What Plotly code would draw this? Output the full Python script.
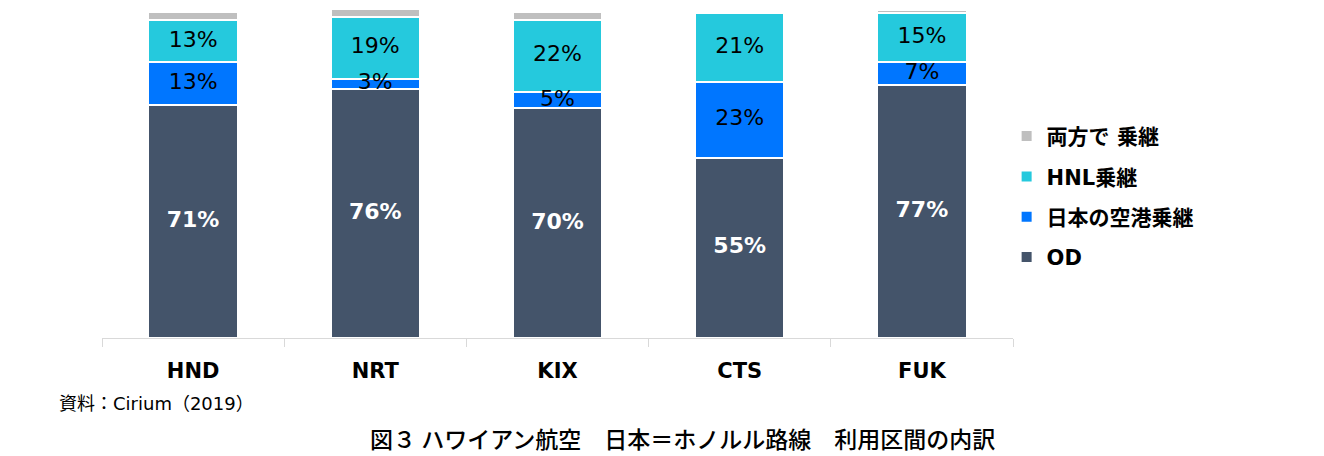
import plotly.graph_objects as go

# -----------------------------
# Data
# -----------------------------
airports = ["HND", "NRT", "KIX", "CTS", "FUK"]

od = [71, 76, 70, 55, 77]
japan_transfer = [13, 3, 5, 23, 7]
hnl_transfer = [13, 19, 22, 21, 15]
both_transfer = [2.4, 2.4, 2.4, 0, 1]

# name, values, colour, label colour, bold label (None = no label), legend rank
SERIES = [
    ("OD", od, "#44546a", "white", True, 4),
    ("日本の空港乗継", japan_transfer, "#0076ff", "black", False, 3),
    ("HNL乗継", hnl_transfer, "#25c9dd", "black", False, 2),
    ("両方で 乗継", both_transfer, "#bfbfbf", "black", None, 1),
]

LATIN = "DejaVu Sans, Noto Sans CJK JP"
CJK = "Noto Sans CJK JP, DejaVu Sans"

# -----------------------------
# Figure
# -----------------------------
fig = go.Figure()

for name, vals, color, txtcolor, bold, rank in SERIES:
    fig.add_trace(
        go.Bar(
            x=airports,
            y=vals,
            name=name,
            legendgroup=name,
            legendrank=rank,
            marker=dict(color=color, line=dict(color="white", width=2)),
            hoverinfo="skip",
        )
    )

# labels on top of all bars, centred in each segment
base = [0] * len(airports)
for name, vals, color, txtcolor, bold, rank in SERIES:
    mids = [b + v / 2 for b, v in zip(base, vals)]
    base = [b + v for b, v in zip(base, vals)]
    if bold is None:
        continue
    texts = [f"<b>{v:.0f}%</b>" if bold else f"{v:.0f}%" for v in vals]
    fig.add_trace(
        go.Scatter(
            x=airports,
            y=mids,
            mode="text",
            text=texts,
            textposition="middle center",
            textfont=dict(family=LATIN, size=22, color=txtcolor),
            showlegend=False,
            hoverinfo="skip",
        )
    )

fig.update_layout(
    barmode="stack",
    bargap=0.51,
    width=1316,
    height=448,
    margin=dict(l=94, r=311, t=2, b=118, autoexpand=False),
    paper_bgcolor="white",
    plot_bgcolor="white",
    showlegend=True,
    legend=dict(
        x=0.993,
        y=0.43,
        xanchor="left",
        yanchor="middle",
        traceorder="grouped",
        tracegroupgap=10,
        font=dict(family=LATIN, size=21, color="black", weight="bold"),
        itemclick=False,
    ),
    xaxis=dict(
        type="category",
        range=[-0.5, 4.5],
        showline=True,
        linecolor="#d9d9d9",
        linewidth=1,
        ticks="outside",
        tickson="boundaries",
        ticklen=8,
        tickcolor="#d9d9d9",
        ticklabelstandoff=14,
        tickfont=dict(family=LATIN, size=21, color="black", weight="bold"),
        showgrid=False,
        zeroline=False,
        fixedrange=True,
    ),
    yaxis=dict(range=[0, 100], visible=False, fixedrange=True),
    annotations=[
        dict(
            text="資料：Cirium（2019）",
            xref="paper", yref="paper",
            x=-0.049, y=-0.201,
            xanchor="left", yanchor="middle",
            showarrow=False,
            font=dict(family=LATIN, size=18, color="black"),
        ),
        dict(
            text="図３ ハワイアン航空　日本＝ホノルル路線　利用区間の内訳",
            xref="paper", yref="paper",
            x=0.637, y=-0.305,
            xanchor="center", yanchor="middle",
            showarrow=False,
            font=dict(family=CJK, size=23, color="black", weight=500),
        ),
    ],
)

fig.write_html("out.html")
